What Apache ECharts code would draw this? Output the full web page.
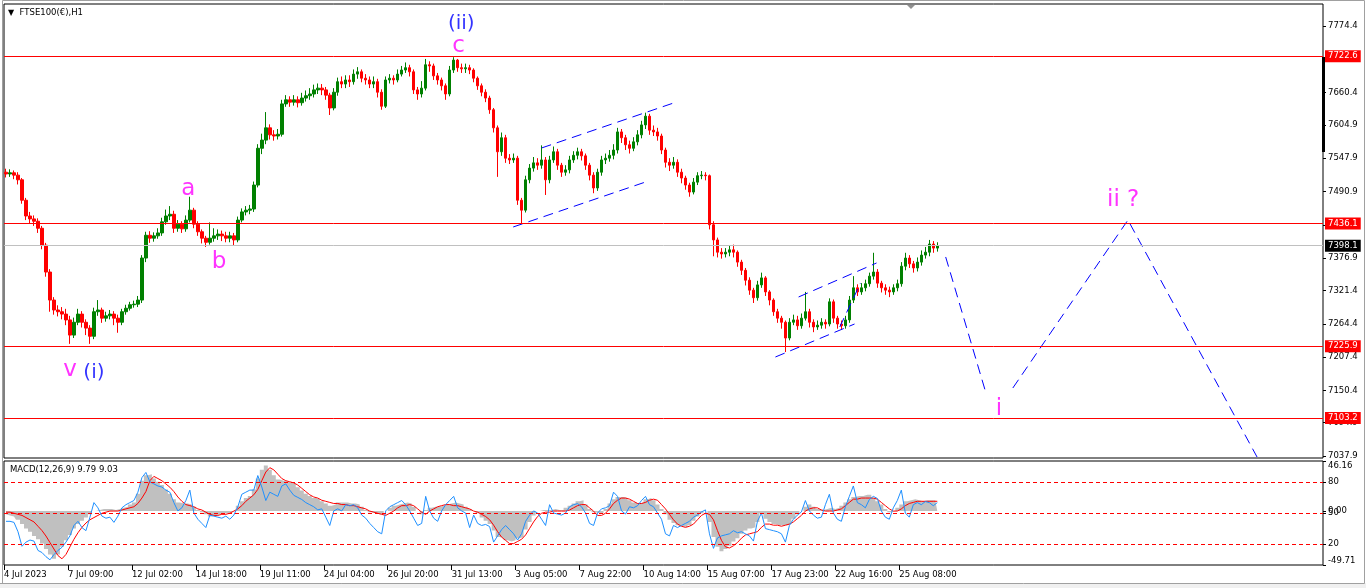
<!DOCTYPE html>
<html>
<head>
<meta charset="utf-8">
<title>FTSE100(€),H1</title>
<script src="https://cdn.jsdelivr.net/npm/echarts@6.0.0/dist/echarts.min.js"></script>
<style>
  html, body { margin: 0; padding: 0; background: #fff; }
  #chart { width: 1366px; height: 588px; }
</style>
</head>
<body>
<div id="chart"></div>
<script>
// one candle = 4 hours
const opens = [
  7524,7521,7523,7519,7511,7476,7449,7444,7440,7428,
  7399,7353,7305,7288,7285,7281,7271,7245,7267,7281,
  7267,7257,7243,7285,7288,7274,7278,7281,7274,7267,
  7285,7291,7297,7298,7305,7377,7416,7411,7415,7420,
  7439,7449,7452,7428,7435,7427,7442,7459,7435,7422,
  7411,7404,7411,7415,7418,7415,7411,7415,7408,7442,
  7456,7459,7461,7502,7565,7579,7600,7588,7586,7589,
  7641,7648,7644,7648,7643,7651,7655,7658,7665,7668,
  7665,7656,7634,7661,7679,7675,7682,7679,7692,7696,
  7685,7682,7675,7679,7661,7637,7682,7685,7682,7692,
  7699,7703,7696,7665,7658,7668,7708,7706,7689,7682,
  7672,7658,7699,7716,7703,7701,7703,7699,7685,7672,
  7661,7651,7631,7600,7559,7583,7548,7545,7548,7476,
  7459,7511,7531,7540,7536,7545,7511,7545,7559,7536,
  7524,7528,7545,7553,7559,7552,7536,7519,7497,7524,
  7545,7548,7553,7562,7593,7583,7571,7565,7576,7588,
  7605,7620,7596,7593,7586,7562,7541,7536,7541,7524,
  7514,7502,7490,7507,7518,7519,7518,7434,7408,7387,
  7384,7387,7391,7387,7370,7356,7339,7322,7309,7331,
  7343,7319,7305,7285,7274,7267,7240,7267,7271,7261,
  7274,7285,7267,7259,7262,7267,7264,7302,7274,7264,
  7261,7271,7305,7326,7319,7326,7333,7346,7353,7334,
  7326,7322,7319,7326,7333,7363,7377,7367,7360,7370,
  7382,7387,7401,7394
];
const closes = [
  7521,7523,7519,7511,7476,7449,7444,7440,7428,7399,
  7353,7305,7288,7285,7281,7271,7245,7267,7281,7267,
  7257,7243,7285,7288,7274,7278,7281,7274,7267,7285,
  7291,7297,7298,7305,7377,7416,7411,7415,7420,7439,
  7449,7452,7428,7435,7427,7442,7459,7435,7422,7411,
  7404,7411,7415,7418,7415,7411,7415,7408,7442,7456,
  7459,7461,7502,7565,7579,7600,7588,7586,7589,7641,
  7648,7644,7648,7643,7651,7655,7658,7665,7668,7665,
  7656,7634,7661,7679,7675,7682,7679,7692,7696,7685,
  7682,7675,7679,7661,7637,7682,7685,7682,7692,7699,
  7703,7696,7665,7658,7668,7708,7706,7689,7682,7672,
  7658,7699,7716,7703,7701,7703,7699,7685,7672,7661,
  7651,7631,7600,7559,7583,7548,7545,7548,7476,7459,
  7511,7531,7540,7536,7545,7511,7545,7559,7536,7524,
  7528,7545,7553,7559,7552,7536,7519,7497,7524,7545,
  7548,7553,7562,7593,7583,7571,7565,7576,7588,7605,
  7620,7596,7593,7586,7562,7541,7536,7541,7524,7514,
  7502,7490,7507,7518,7519,7518,7434,7408,7387,7384,
  7387,7391,7387,7370,7356,7339,7322,7309,7331,7343,
  7319,7305,7285,7274,7267,7240,7267,7271,7261,7274,
  7285,7267,7259,7262,7267,7264,7302,7274,7264,7261,
  7271,7305,7326,7319,7326,7333,7346,7353,7334,7326,
  7322,7319,7326,7333,7363,7377,7367,7360,7370,7382,
  7387,7401,7394,7398.1
];
const highs = [
  7530,7529,7527,7524,7514,7480,7456,7450,7445,7432,
  7403,7358,7310,7296,7293,7290,7278,7275,7290,7286,
  7272,7262,7292,7305,7292,7285,7288,7286,7280,7290,
  7297,7302,7304,7312,7382,7422,7423,7421,7428,7446,
  7460,7466,7458,7442,7440,7450,7482,7463,7440,7426,
  7415,7438,7428,7426,7424,7422,7422,7420,7448,7462,
  7466,7468,7508,7572,7590,7627,7606,7596,7598,7648,
  7656,7654,7656,7654,7660,7664,7668,7674,7676,7675,
  7670,7660,7668,7686,7688,7690,7690,7700,7704,7700,
  7692,7688,7688,7684,7666,7688,7692,7690,7700,7706,
  7712,7708,7700,7670,7680,7718,7714,7710,7694,7686,
  7676,7706,7721,7718,7710,7710,7708,7702,7688,7676,
  7666,7655,7634,7604,7592,7588,7555,7556,7552,7480,
  7518,7538,7550,7548,7570,7550,7552,7568,7564,7540,
  7536,7552,7560,7566,7564,7556,7540,7524,7530,7552,
  7556,7562,7572,7600,7598,7588,7578,7584,7596,7612,
  7626,7624,7604,7600,7590,7566,7548,7550,7546,7530,
  7518,7506,7514,7524,7526,7524,7520,7440,7412,7394,
  7394,7398,7400,7390,7374,7360,7344,7326,7338,7352,
  7346,7322,7308,7290,7278,7270,7274,7280,7278,7282,
  7319,7290,7272,7270,7274,7272,7308,7306,7278,7270,
  7278,7312,7346,7332,7334,7340,7352,7386,7358,7338,
  7332,7328,7332,7340,7370,7386,7382,7372,7378,7390,
  7396,7408,7406,7404
];
const lows = [
  7515,7516,7512,7503,7470,7442,7437,7432,7420,7392,
  7345,7285,7280,7277,7272,7262,7230,7240,7262,7258,
  7245,7230,7238,7278,7266,7268,7272,7262,7249,7262,
  7280,7287,7292,7293,7300,7370,7403,7405,7410,7415,
  7434,7442,7420,7422,7420,7422,7438,7428,7415,7402,
  7396,7400,7405,7408,7406,7404,7404,7398,7404,7438,
  7450,7452,7456,7498,7555,7572,7580,7578,7580,7585,
  7636,7636,7638,7635,7638,7645,7648,7652,7658,7656,
  7648,7622,7630,7655,7668,7668,7670,7674,7684,7678,
  7674,7668,7668,7652,7631,7634,7676,7674,7678,7688,
  7694,7688,7658,7648,7652,7664,7696,7682,7674,7664,
  7648,7654,7694,7696,7694,7694,7692,7678,7665,7654,
  7644,7624,7592,7516,7552,7540,7538,7540,7468,7437,
  7455,7505,7525,7528,7530,7485,7505,7540,7528,7516,
  7518,7522,7540,7546,7544,7528,7510,7488,7492,7518,
  7538,7542,7546,7556,7574,7562,7556,7560,7570,7582,
  7598,7588,7586,7578,7555,7532,7526,7530,7516,7505,
  7494,7482,7486,7502,7512,7510,7426,7380,7378,7376,
  7378,7380,7378,7362,7348,7330,7314,7300,7304,7326,
  7312,7296,7278,7266,7256,7216,7236,7262,7254,7256,
  7270,7258,7250,7254,7256,7256,7260,7266,7256,7254,
  7256,7266,7300,7312,7314,7320,7328,7340,7326,7318,
  7314,7310,7314,7320,7328,7356,7360,7352,7354,7364,
  7376,7380,7386,7388
];

// MACD(12,26,9) main (grey histogram) and signal (red)
const macd = [
  -3,-4,-5,-8,-12,-16,-19,-23,-26,-30,
  -35,-40,-44,-40,-33,-27,-22,-16,-12,-9,
  -6,-3,0,1,2,2,2,1,2,3,
  4,6,8,16,28,33,34,30,27,24,
  20,16,11,8,7,7,6,4,1,-1,
  -3,-5,-4,-3,-2,-2,-1,0,5,9,
  12,14,20,30,38,42,38,33,29,28,
  27,26,25,22,19,16,14,12,11,9,
  7,5,6,8,8,8,7,7,6,4,
  1,-1,-2,-3,-3,0,3,5,6,7,
  8,7,4,0,-3,1,3,4,4,5,
  6,7,8,7,6,4,2,0,-2,-6,
  -9,-12,-18,-24,-25,-27,-28,-27,-25,-24,
  -17,-10,-4,0,1,1,1,2,1,1,
  3,5,7,9,10,6,2,-1,-2,-2,
  2,7,11,13,13,12,10,8,7,8,
  11,12,10,6,2,-3,-8,-11,-13,-14,
  -15,-13,-9,-5,-2,0,-10,-24,-33,-37,
  -35,-32,-28,-25,-21,-18,-16,-15,-10,-2,
  -7,-10,-12,-13,-13,-13,-12,-7,-3,0,
  4,6,4,2,1,2,3,2,3,5,
  8,11,13,14,14,15,15,12,9,6,
  2,-1,0,3,6,9,10,11,10,9,
  10,10,10,9.79
];
const signal = [
  -1,-1,-2,-3,-4,-6,-8,-10,-14,-18,
  -23,-29,-35,-41,-44,-40,-33,-26,-20,-15,
  -11,-8,-6,-4,-2,-1,0,0,0,1,
  2,3,4,7,12,18,28,32,30,28,
  25,22,18,13,9,6,5,4,2,1,
  -1,-3,-4,-4,-3,-3,-2,0,2,5,
  9,12,15,20,28,36,40,38,34,30,
  28,27,26,24,21,18,15,13,12,10,
  9,8,7,7,6,6,5,5,4,3,
  2,0,-1,-2,-3,-4,-2,0,3,5,
  5,6,5,2,-1,-3,0,2,4,5,
  6,6,5,5,4,3,2,0,-1,-3,
  -5,-8,-13,-19,-24,-27,-30,-30,-28,-26,
  -22,-16,-10,-5,-2,-1,-1,0,0,0,
  0,1,3,5,6,6,3,0,-4,-4,
  -2,2,7,10,12,12,11,9,7,7,
  8,10,11,10,6,2,-3,-8,-12,-14,
  -15,-14,-12,-8,-4,-2,-3,-8,-18,-27,
  -33,-34,-32,-29,-25,-22,-21,-20,-19,-15,
  -12,-12,-13,-13,-14,-13,-12,-10,-7,-4,
  0,2,3,3,1,0,0,0,1,2,
  5,8,11,11,12,12,12,12,11,8,
  5,2,0,0,2,5,7,8,9,9,
  9,9,9,9.03
];
// oscillator drawn in blue on the MACD window (levels 80/50/20)
const rsi = [
  42,42,41,32,18,22,24,23,14,12,
  8,5,10,14,17,22,28,38,42,36,
  33,46,60,55,47,45,46,41,47,55,
  58,60,62,70,84,89,80,78,76,75,
  72,70,60,52,55,62,72,50,44,40,
  36,48,47,46,45,47,44,48,56,68,
  70,72,72,86,75,62,70,68,66,76,
  78,72,67,65,63,60,58,56,53,54,
  46,38,52,54,52,58,57,58,55,48,
  45,40,36,32,30,52,56,58,60,62,
  58,52,45,38,40,66,52,45,42,52,
  58,62,66,55,52,50,36,48,40,38,
  39,37,22,28,34,38,34,30,24,30,
  42,48,52,50,44,38,58,50,49,48,
  50,56,58,59,56,50,40,38,50,54,
  55,57,70,66,52,49,56,55,57,62,
  66,58,56,50,44,30,28,38,36,38,
  40,42,46,48,51,53,30,16,26,28,
  29,30,33,31,32,30,28,23,42,50,
  35,34,33,32,30,22,38,44,48,51,
  62,52,48,45,46,58,68,50,44,42,
  56,66,76,60,58,55,63,66,64,52,
  46,44,55,62,72,50,46,58,60,58,
  61,60,57,60
];

const timeLabels = ['4 Jul 2023', '7 Jul 09:00', '12 Jul 02:00', '14 Jul 18:00', '19 Jul 11:00',
  '24 Jul 04:00', '26 Jul 20:00', '31 Jul 13:00', '3 Aug 05:00', '7 Aug 22:00',
  '10 Aug 14:00', '15 Aug 07:00', '17 Aug 23:00', '22 Aug 16:00', '25 Aug 08:00'];
const priceTicks = [7774.4, 7717.4, 7660.4, 7604.9, 7547.9, 7490.9, 7433.9, 7376.9,
  7321.4, 7264.4, 7207.4, 7150.4, 7094.9, 7037.9];
const levels = [7722.6, 7436.1, 7225.9, 7103.2];
const lastPrice = 7398.1;
const macdMax = 46.16;
const macdMin = -49.71;
const oscLevels = [80, 50, 20];

// drawn objects, [slot, price]
const channels = [
  [[126.9, 7430.2], [160.0, 7507.2]],
  [[134.0, 7565.5], [167.0, 7642.5]],
  [[192.5, 7207.5], [212.3, 7264.0]],
  [[198.3, 7310.3], [217.8, 7368.5]],
  [[208.6, 7258.9], [213.8, 7334.2]],
];
const projection = [
  [[235.1, 7378.8], [245.1, 7147.5]],
  [[251.9, 7154.4], [280.7, 7442.1], [313.0, 7036.2]],
];
const waveMagenta = [
  [113.2, 7740.2, 'c'], [45.6, 7495.2, 'a'], [53.3, 7370.2, 'b'],
  [16.0, 7185.2, 'v'], [248.4, 7118.4, 'i'], [279.5, 7476.4, 'ii ?'],
];
const waveBlue = [[113.9, 7777.8, '(ii)'], [22.0, 7180.1, '(i)']];

const slots = 330;
const slotIdx = Array.from({ length: slots }, (_, i) => i);
const candles = closes.map((c, i) => [opens[i], c, lows[i], highs[i]]);
const labelPos = timeLabels.map((_, k) => k * 16 - 0.5);

const font = 'DejaVu Sans';
const txt = { color: '#000', fontFamily: font, fontSize: 8.5 };
const noLine = { show: false, onZero: false };

const tag = (value, bg, lineColor) => ({
  yAxis: value,
  lineStyle: { color: lineColor, width: 1, type: 'solid' },
  label: {
    show: true, position: 'end', distance: 2, formatter: value.toFixed(1),
    backgroundColor: bg, color: '#fff', fontFamily: font, fontSize: 8.5, padding: [2, 3, 1, 3],
  },
});

const dashed = (data) => ({
  type: 'line', xAxisIndex: 1, yAxisIndex: 0, data, symbol: 'none', silent: true, z: 4,
  lineStyle: { color: '#0000ff', width: 1, type: [10, 6] },
});

const words = (list, color, size) => ({
  type: 'scatter', xAxisIndex: 1, yAxisIndex: 0, symbolSize: 1, silent: true, z: 5,
  itemStyle: { color: 'transparent' },
  data: list.map(w => ({ value: [w[0], w[1]], name: w[2] })),
  label: { show: true, position: 'inside', formatter: '{b}', color, fontSize: size, fontFamily: font },
});

// a MACD-scale axis that only carries one label (top or bottom aligned like the terminal does)
const macdEdge = (value, align) => ({
  type: 'value', gridIndex: 1, position: 'right', min: macdMin, max: macdMax,
  axisLine: noLine, splitLine: { show: false },
  axisTick: { show: true, length: 3, customValues: [value], lineStyle: { color: '#000' } },
  axisLabel: { ...txt, customValues: [value], margin: 5, verticalAlign: align, formatter: v => v.toFixed(2) },
});

const chart = echarts.init(document.getElementById('chart'));
chart.setOption({
  animation: false,
  backgroundColor: '#fff',
  title: [
    { text: '{t|▼}  FTSE100(€),H1', left: 8, top: 8, padding: 0,
      textStyle: { ...txt, fontWeight: 'normal', rich: { t: { fontSize: 8, fontFamily: font, color: '#000' } } } },
    { text: 'MACD(12,26,9) 9.79 9.03', left: 10, top: 465, padding: 0,
      textStyle: { ...txt, fontWeight: 'normal' } },
  ],
  graphic: [
    { type: 'rect', shape: { x: 0, y: 583, width: 1366, height: 5 }, style: { fill: '#f0f0f0' }, silent: true },
    { type: 'polyline', shape: { points: [[2.5, 583.5], [2.5, 0.5], [1364.5, 0.5], [1364.5, 583.5], [0, 583.5]] },
      style: { fill: 'none', stroke: '#a0a0a0' }, silent: true },
    { type: 'rect', shape: { x: 1322, y: 57, width: 3, height: 95 }, style: { fill: '#000' }, silent: true, z: 10 },
    { type: 'polygon', shape: { points: [[907, 5], [915, 5], [911, 9]] }, style: { fill: '#909090' }, silent: true, z: 10 },
  ],
  grid: [
    { left: 4, right: 43, top: 4, height: 454, show: true, borderColor: '#000', borderWidth: 1,
      backgroundColor: 'transparent', containLabel: false, outerBoundsMode: 'none' },
    { left: 4, right: 43, top: 461, height: 104, show: true, borderColor: '#000', borderWidth: 1,
      backgroundColor: 'transparent', containLabel: false, outerBoundsMode: 'none' },
  ],
  xAxis: [
    { type: 'category', gridIndex: 0, data: slotIdx, show: false, axisLine: noLine },
    { type: 'value', gridIndex: 0, min: -0.5, max: slots - 0.5, show: false, axisLine: noLine },
    { type: 'category', gridIndex: 1, data: slotIdx, show: false, axisLine: noLine },
    {
      type: 'value', gridIndex: 1, min: -0.5, max: slots - 0.5, position: 'bottom',
      axisLine: noLine, splitLine: { show: false },
      axisTick: { show: true, length: 5, customValues: labelPos, lineStyle: { color: '#000' } },
      axisLabel: { ...txt, customValues: labelPos, align: 'left', margin: 5,
        formatter: v => timeLabels[Math.round((v + 0.5) / 16)] },
    },
  ],
  yAxis: [
    {
      type: 'value', gridIndex: 0, position: 'right', min: 7034.5, max: 7812.1,
      axisLine: noLine, splitLine: { show: false },
      axisTick: { show: true, length: 3, customValues: priceTicks, lineStyle: { color: '#000' } },
      axisLabel: { ...txt, customValues: priceTicks, margin: 5, formatter: v => v.toFixed(1) },
    },
    {
      type: 'value', gridIndex: 1, position: 'right', min: macdMin, max: macdMax,
      axisLine: noLine, splitLine: { show: false },
      axisTick: { show: true, length: 3, customValues: [0], lineStyle: { color: '#000' } },
      axisLabel: { ...txt, customValues: [0], margin: 5, formatter: v => v.toFixed(2) },
    },
    {
      type: 'value', gridIndex: 1, position: 'right', min: 0, max: 100,
      axisLine: noLine, splitLine: { show: false },
      axisTick: { show: true, length: 3, customValues: oscLevels, lineStyle: { color: '#000' } },
      axisLabel: { ...txt, customValues: oscLevels, margin: 5 },
    },
    macdEdge(macdMax, 'top'),
    macdEdge(macdMin, 'bottom'),
  ],
  series: [
    {
      type: 'candlestick', xAxisIndex: 0, yAxisIndex: 0, data: candles, barWidth: 3,
      itemStyle: { color: '#008000', color0: '#ff0000', borderColor: '#008000', borderColor0: '#ff0000', borderWidth: 1 },
      markLine: {
        silent: true, symbol: 'none', animation: false,
        data: levels.map(v => tag(v, '#ff0000', '#ff0000')).concat([tag(lastPrice, '#000', '#c0c0c0')]),
      },
    },
    ...channels.map(dashed),
    ...projection.map(dashed),
    words(waveMagenta, '#ff00ff', 23),
    words(waveBlue, '#0000ff', 20),
    {
      // MACD main as a solid stepped histogram
      type: 'line', xAxisIndex: 2, yAxisIndex: 1, data: macd, step: 'middle', symbol: 'none', silent: true, z: 2,
      lineStyle: { width: 0, color: '#c0c0c0' },
      areaStyle: { color: '#c0c0c0', opacity: 1, origin: 0 },
    },
    {
      type: 'line', xAxisIndex: 2, yAxisIndex: 1, data: signal, symbol: 'none', silent: true, z: 3,
      lineStyle: { color: '#ff0000', width: 1 },
    },
    {
      type: 'line', xAxisIndex: 2, yAxisIndex: 2, data: rsi, symbol: 'none', silent: true, z: 3,
      lineStyle: { color: '#1e90ff', width: 1 },
      markLine: {
        silent: true, symbol: 'none', label: { show: false },
        lineStyle: { color: '#ff0000', width: 1, type: [4, 3] },
        data: oscLevels.map(v => ({ yAxis: v })),
      },
    },
  ],
});
</script>
</body>
</html>
